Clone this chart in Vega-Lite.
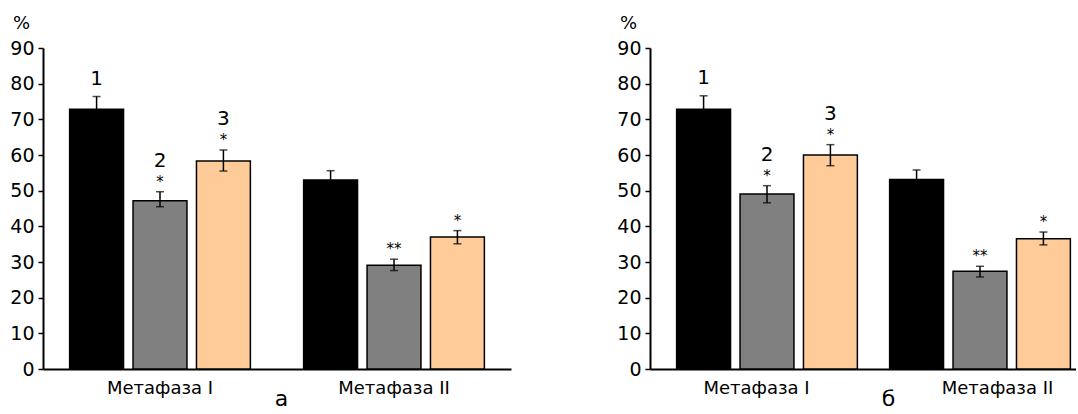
{
  "$schema": "https://vega.github.io/schema/vega-lite/v6.json",
  "padding": {"left": 9, "top": 14, "right": 0, "bottom": 0},
  "spacing": 105,
  "config": {
    "view": {"stroke": null},
    "font": "DejaVu Sans",
    "axis": {"labelFont": "DejaVu Sans", "titleFont": "DejaVu Sans", "labelColor": "#000", "titleColor": "#000", "domainColor": "#000", "tickColor": "#000", "grid": false, "titleFontWeight": "normal"},
    "axisY": {"titleAngle": 0, "titleFontSize": 18, "titleX": -22, "titleY": -25, "titleAlign": "center", "titleBaseline": "middle",
              "labelFontSize": 19, "labelPadding": 4, "tickSize": 5, "tickWidth": 1.5, "domainWidth": 2}
  },
  "datasets": {
    "a": [
      {"phase": "Метафаза I", "group": "1", "mean": 72.8, "lo": 69.2, "hi": 76.4, "num": "1", "star": ""},
      {"phase": "Метафаза I", "group": "2", "mean": 47.2, "lo": 45.5, "hi": 49.7, "num": "2", "star": "*"},
      {"phase": "Метафаза I", "group": "3", "mean": 58.3, "lo": 55.5, "hi": 61.4, "num": "3", "star": "*"},
      {"phase": "Метафаза II", "group": "1", "mean": 53.0, "lo": 50.3, "hi": 55.6, "num": "", "star": ""},
      {"phase": "Метафаза II", "group": "2", "mean": 29.1, "lo": 27.6, "hi": 30.8, "num": "", "star": "**"},
      {"phase": "Метафаза II", "group": "3", "mean": 37.0, "lo": 35.1, "hi": 38.8, "num": "", "star": "*"}
    ],
    "b": [
      {"phase": "Метафаза I", "group": "1", "mean": 72.8, "lo": 69.0, "hi": 76.6, "num": "1", "star": ""},
      {"phase": "Метафаза I", "group": "2", "mean": 49.1, "lo": 46.6, "hi": 51.4, "num": "2", "star": "*"},
      {"phase": "Метафаза I", "group": "3", "mean": 60.0, "lo": 57.0, "hi": 62.9, "num": "3", "star": "*"},
      {"phase": "Метафаза II", "group": "1", "mean": 53.1, "lo": 50.4, "hi": 55.8, "num": "", "star": ""},
      {"phase": "Метафаза II", "group": "2", "mean": 27.4, "lo": 25.8, "hi": 28.8, "num": "", "star": "**"},
      {"phase": "Метафаза II", "group": "3", "mean": 36.5, "lo": 34.8, "hi": 38.4, "num": "", "star": "*"}
    ]
  },
  "hconcat": [
    {
      "width": 468,
      "height": 321,
      "data": {"name": "a"},
      "encoding": {
        "x": {"field": "phase", "type": "nominal", "sort": ["Метафаза I", "Метафаза II"],
              "scale": {"paddingInner": 0, "paddingOuter": 0},
              "axis": {"title": "а", "titleFontSize": 22, "titleX": 238, "titleY": 36, "titleBaseline": "alphabetic",
                       "labelAngle": 0, "labelFontSize": 18, "labelPadding": 10, "ticks": false, "domainWidth": 2}},
        "xOffset": {"field": "group", "type": "nominal", "scale": {"paddingInner": 0.15, "paddingOuter": 0.42}},
        "color": {"field": "group", "type": "nominal", "scale": {"domain": ["1", "2", "3"], "range": ["#000000", "#808080", "#FFCC99"]}, "legend": null}
      },
      "layer": [
        {"mark": {"type": "bar", "stroke": "#000", "strokeWidth": 1.5},
         "encoding": {"y": {"field": "mean", "type": "quantitative", "title": "%", "scale": {"domain": [0, 90]},
            "axis": {"values": [0, 10, 20, 30, 40, 50, 60, 70, 80, 90]}}}},
        {"mark": {"type": "rule", "strokeWidth": 1.5},
         "encoding": {"y": {"field": "lo", "type": "quantitative", "title": "%", "axis": {"values": [0, 10, 20, 30, 40, 50, 60, 70, 80, 90]}}, "y2": {"field": "hi"}, "color": {"value": "#000"}}},
        {"mark": {"type": "tick", "size": 8, "thickness": 1.5},
         "encoding": {"y": {"field": "hi", "type": "quantitative", "title": "%", "axis": {"values": [0, 10, 20, 30, 40, 50, 60, 70, 80, 90]}}, "color": {"value": "#000"}}},
        {"mark": {"type": "tick", "size": 8, "thickness": 1.5},
         "encoding": {"y": {"field": "lo", "type": "quantitative", "title": "%", "axis": {"values": [0, 10, 20, 30, 40, 50, 60, 70, 80, 90]}}, "color": {"value": "#000"}}},
        {"transform": [{"filter": "datum.star != ''"}],
         "mark": {"type": "text", "fontSize": 15, "baseline": "middle", "dy": -10},
         "encoding": {"y": {"field": "hi", "type": "quantitative", "title": "%", "axis": {"values": [0, 10, 20, 30, 40, 50, 60, 70, 80, 90]}}, "text": {"field": "star"}, "color": {"value": "#000"}}},
        {"transform": [{"filter": "datum.num != '' && datum.star != ''"}],
         "mark": {"type": "text", "fontSize": 20, "baseline": "middle", "dy": -31},
         "encoding": {"y": {"field": "hi", "type": "quantitative", "title": "%", "axis": {"values": [0, 10, 20, 30, 40, 50, 60, 70, 80, 90]}}, "text": {"field": "num"}, "color": {"value": "#000"}}},
        {"transform": [{"filter": "datum.num != '' && datum.star == ''"}],
         "mark": {"type": "text", "fontSize": 20, "baseline": "middle", "dy": -18},
         "encoding": {"y": {"field": "hi", "type": "quantitative", "title": "%", "axis": {"values": [0, 10, 20, 30, 40, 50, 60, 70, 80, 90]}}, "text": {"field": "num"}, "color": {"value": "#000"}}}
      ]
    },
    {
      "width": 426,
      "height": 321,
      "data": {"name": "b"},
      "encoding": {
        "x": {"field": "phase", "type": "nominal", "sort": ["Метафаза I", "Метафаза II"],
              "scale": {"paddingInner": 0, "paddingOuter": 0},
              "axis": {"title": "б", "titleFontSize": 22, "titleX": 238, "titleY": 36, "titleBaseline": "alphabetic",
                       "labelAngle": 0, "labelFontSize": 18, "labelPadding": 10, "ticks": false, "domainWidth": 2,
                       "labelOffset": {"condition": {"test": "datum.value == 'Метафаза II'", "value": 28}, "value": 0}}},
        "xOffset": {"field": "group", "type": "nominal", "scale": {"paddingInner": 0.167, "paddingOuter": 0.39}},
        "color": {"field": "group", "type": "nominal", "scale": {"domain": ["1", "2", "3"], "range": ["#000000", "#808080", "#FFCC99"]}, "legend": null}
      },
      "layer": [
        {"mark": {"type": "bar", "stroke": "#000", "strokeWidth": 1.5},
         "encoding": {"y": {"field": "mean", "type": "quantitative", "title": "%", "scale": {"domain": [0, 90]},
            "axis": {"values": [0, 10, 20, 30, 40, 50, 60, 70, 80, 90]}}}},
        {"mark": {"type": "rule", "strokeWidth": 1.5},
         "encoding": {"y": {"field": "lo", "type": "quantitative", "title": "%", "axis": {"values": [0, 10, 20, 30, 40, 50, 60, 70, 80, 90]}}, "y2": {"field": "hi"}, "color": {"value": "#000"}}},
        {"mark": {"type": "tick", "size": 8, "thickness": 1.5},
         "encoding": {"y": {"field": "hi", "type": "quantitative", "title": "%", "axis": {"values": [0, 10, 20, 30, 40, 50, 60, 70, 80, 90]}}, "color": {"value": "#000"}}},
        {"mark": {"type": "tick", "size": 8, "thickness": 1.5},
         "encoding": {"y": {"field": "lo", "type": "quantitative", "title": "%", "axis": {"values": [0, 10, 20, 30, 40, 50, 60, 70, 80, 90]}}, "color": {"value": "#000"}}},
        {"transform": [{"filter": "datum.star != ''"}],
         "mark": {"type": "text", "fontSize": 15, "baseline": "middle", "dy": -10},
         "encoding": {"y": {"field": "hi", "type": "quantitative", "title": "%", "axis": {"values": [0, 10, 20, 30, 40, 50, 60, 70, 80, 90]}}, "text": {"field": "star"}, "color": {"value": "#000"}}},
        {"transform": [{"filter": "datum.num != '' && datum.star != ''"}],
         "mark": {"type": "text", "fontSize": 20, "baseline": "middle", "dy": -31},
         "encoding": {"y": {"field": "hi", "type": "quantitative", "title": "%", "axis": {"values": [0, 10, 20, 30, 40, 50, 60, 70, 80, 90]}}, "text": {"field": "num"}, "color": {"value": "#000"}}},
        {"transform": [{"filter": "datum.num != '' && datum.star == ''"}],
         "mark": {"type": "text", "fontSize": 20, "baseline": "middle", "dy": -18},
         "encoding": {"y": {"field": "hi", "type": "quantitative", "title": "%", "axis": {"values": [0, 10, 20, 30, 40, 50, 60, 70, 80, 90]}}, "text": {"field": "num"}, "color": {"value": "#000"}}}
      ]
    }
  ]
}
